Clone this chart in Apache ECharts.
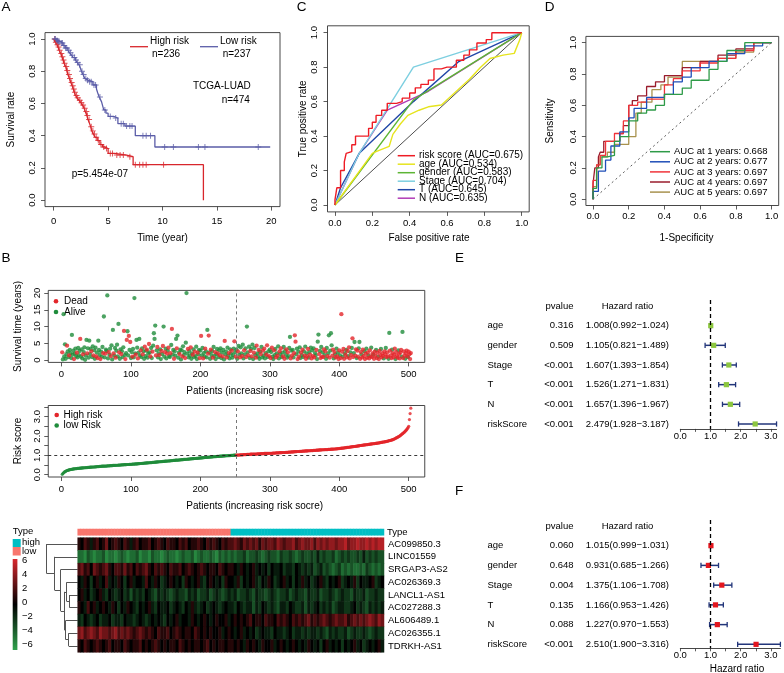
<!DOCTYPE html>
<html><head><meta charset="utf-8">
<script src="https://cdn.jsdelivr.net/npm/echarts@6/dist/echarts.min.js"></script>
<style>html,body{margin:0;padding:0;background:#fff}#c{width:784px;height:673px}</style>
</head><body><div id="c"></div><script>
const FF = '"Liberation Sans", Arial, Helvetica, sans-serif';

// ---------- A: Kaplan-Meier ----------
const kmHighTime = [0,0.15,0.3,0.4,0.5,0.65,0.75,0.86,0.95,1.1,1.2,1.3,1.45,1.57,1.7,1.8,1.9,2.0,2.15,2.33,2.5,2.65,2.8,2.9,3.05,3.15,3.3,3.4,3.5,3.65,3.8,4.0,4.25,4.5,4.7,5.0,5.6,6.7,7.3,13.76];
const kmHighSurv = [1,0.98,0.965,0.95,0.93,0.91,0.89,0.87,0.85,0.83,0.805,0.78,0.755,0.73,0.71,0.69,0.67,0.65,0.635,0.62,0.605,0.59,0.57,0.55,0.525,0.50,0.475,0.455,0.43,0.41,0.39,0.37,0.345,0.33,0.32,0.29,0.28,0.27,0.22,0];
const kmLowTime = [0,0.2,0.4,0.6,0.86,1.05,1.3,1.45,1.63,1.8,2.0,2.15,2.33,2.45,2.55,2.7,2.86,3.0,3.15,3.6,3.93,4.05,4.18,4.3,4.4,4.5,4.6,4.8,5.0,5.5,5.9,6.55,7.5,9.3,19.9];
const kmLowSurv = [1,0.99,0.985,0.975,0.96,0.945,0.93,0.915,0.90,0.885,0.87,0.855,0.84,0.82,0.80,0.78,0.755,0.745,0.735,0.715,0.69,0.665,0.64,0.625,0.61,0.585,0.56,0.54,0.52,0.51,0.475,0.46,0.40,0.33,0.33];
const kmHighCensor = [0.1,0.2,0.35,0.45,0.55,0.7,0.8,0.9,1.0,1.15,1.25,1.4,1.5,1.65,1.75,1.85,1.95,2.1,2.2,2.4,2.55,2.7,2.85,3.0,3.1,3.25,3.45,3.6,3.75,3.9,4.1,4.35,4.6,4.85,5.2,5.4,5.8,6.1,6.4,7.0,7.5,7.9,8.2,8.5,10.1];
const kmLowCensor = [0.1,0.15,0.25,0.35,0.45,0.5,0.7,0.8,0.95,1.1,1.2,1.4,1.55,1.7,1.9,2.05,2.2,2.4,2.6,2.75,2.95,3.1,3.3,3.45,3.7,3.85,4.25,4.7,5.2,5.7,6.2,6.4,6.7,7.0,7.2,8.2,8.5,8.9,10.2,11.0,13.3,13.9,18.8];
const kmTicksX = [0,5,10,15,20];
const unitTicks = [0,0.2,0.4,0.6,0.8,1.0];

// ---------- C: ROC of clinical features ----------
const rocCNames = ['risk score','age','gender','Stage','T','N'];
const rocCAuc = [0.675,0.534,0.583,0.704,0.645,0.635];
const rocCFpr = [
 [0,0.01,0.03,0.05,0.06,0.07,0.09,0.11,0.13,0.18,0.2,0.22,0.25,0.28,0.30,0.33,0.36,0.40,0.43,0.46,0.50,0.53,0.57,0.60,0.65,0.69,0.72,0.76,0.81,0.84,0.875,1.0],
 [0,0.2,0.22,0.29,0.31,0.35,0.39,0.45,0.5,0.57,0.64,0.72,0.78,0.83,0.9,0.96,0.99,1.0],
 [0,0.42,1],
 [0,0.13,0.42,1],
 [0,0.03,0.13,0.42,0.66,1],
 [0,0.13,0.28,0.5,1]
];
const rocCTpr = [
 [0,0.03,0.1,0.2,0.25,0.3,0.31,0.35,0.40,0.40,0.445,0.48,0.52,0.55,0.59,0.59,0.60,0.62,0.65,0.68,0.70,0.725,0.79,0.80,0.80,0.84,0.87,0.90,0.94,0.96,1.0,1.0],
 [0,0.3,0.31,0.34,0.41,0.47,0.52,0.55,0.57,0.58,0.65,0.73,0.8,0.85,0.87,0.88,0.96,1.0],
 [0,0.61,1],
 [0,0.30,0.80,1],
 [0,0.1,0.3,0.6,0.83,1],
 [0,0.3,0.55,0.66,1]
];

// ---------- D: time-dependent ROC ----------
const rocDYears = [1,2,3,4,5];
const rocDAuc = [0.668,0.677,0.697,0.697,0.697];
const rocDFpr = [
 [0,0.02,0.05,0.08,0.12,0.15,0.2,0.25,0.3,0.35,0.4,0.5,0.55,0.62,0.65,0.7,0.75,0.85,0.92,1],
 [0,0.03,0.07,0.1,0.15,0.2,0.23,0.3,0.4,0.45,0.5,0.55,0.65,0.75,0.85,0.95,1],
 [0,0.02,0.04,0.07,0.12,0.17,0.2,0.25,0.3,0.4,0.45,0.5,0.6,0.7,0.8,0.9,1],
 [0,0.01,0.03,0.04,0.06,0.08,0.15,0.17,0.2,0.22,0.25,0.3,0.35,0.4,0.5,0.6,0.7,0.8,0.9,1],
 [0,0.02,0.04,0.08,0.12,0.2,0.24,0.27,0.33,0.38,0.42,0.5,0.55,0.6,0.7,0.8,0.9,1]
];
const rocDTpr = [
 [0,0.07,0.2,0.27,0.28,0.37,0.4,0.5,0.55,0.57,0.6,0.67,0.71,0.76,0.76,0.83,0.88,0.95,1,1],
 [0,0.05,0.18,0.25,0.34,0.43,0.52,0.58,0.65,0.67,0.75,0.78,0.84,0.88,0.93,0.98,1],
 [0,0.12,0.22,0.28,0.37,0.42,0.5,0.6,0.62,0.64,0.73,0.77,0.82,0.87,0.9,0.95,1],
 [0,0.1,0.2,0.27,0.3,0.37,0.37,0.42,0.47,0.6,0.63,0.66,0.72,0.75,0.79,0.84,0.88,0.92,0.96,1],
 [0,0.08,0.22,0.27,0.3,0.35,0.4,0.55,0.62,0.7,0.73,0.78,0.88,0.88,0.88,0.9,0.94,1]
];

// ---------- B: survival status / risk score ----------
const survTime = [
2.3,0.2,13.7,1.1,4.7,0.4,1.8,4.3,2.6,0.9,1.4,3.0,2.0,0.6,7.5,1.6,2.8,0.3,1.9,3.4,1.2,2.2,0.8,3.6,1.5,
2.7,6.3,1.0,3.2,0.5,1.7,2.4,3.8,0.1,1.3,6.0,2.0,3.5,0.7,5.8,1.8,3.3,2.6,0.9,4.1,1.4,2.9,0.4,3.7,1.1,
2.2,0.6,5.8,3.0,1.5,0.3,2.5,1.0,3.9,2.1,13.0,0.8,1.9,3.1,2.7,19.3,0.5,2.4,1.6,3.4,1.2,4.4,0.2,9.0,2.0,
1.3,3.6,0.7,2.8,4.6,1.1,10.8,2.3,0.4,3.2,1.8,2.6,0.9,3.8,8.7,1.5,0.3,2.1,6.0,8.6,1.4,7.2,3.0,5.4,0.6,
2.4,1.0,3.3,0.8,18.5,2.0,1.6,6.0,3.7,0.5,2.2,6.3,1.3,2.9,0.9,3.5,1.7,2.6,0.4,4.0,1.2,2.8,3.1,0.7,1.9,
4.8,2.3,1.1,3.6,0.6,2.5,4.3,8.0,6.3,10.3,1.4,2.9,3.9,0.8,2.0,1.5,3.2,0.3,2.7,1.8,4.2,10.0,1.0,2.4,3.4,
0.5,1.9,2.8,3.7,1.2,0.9,2.1,4.5,9.3,1.6,3.0,0.4,2.6,1.3,6.3,3.5,7.3,0.7,2.2,1.8,3.1,0.2,2.9,1.1,4.1,
1.5,2.4,0.6,5.2,20.0,1.9,3.3,0.8,2.7,1.3,3.8,0.4,2.0,1.6,3.2,0.9,2.5,1.2,4.0,0.3,2.2,1.7,3.0,0.6,2.8,
7.2,1.4,3.6,0.5,2.1,1.0,3.4,2.6,0.8,9.0,1.9,7.3,2.3,0.4,3.1,1.5,2.7,0.7,3.9,1.2,2.4,0.3,1.8,3.3,2.0,
0.9,2.9,1.4,3.5,0.6,2.2,1.1,3.0,0.2,5.7,1.7,2.5,0.8,3.7,1.3,2.1,0.5,3.2,1.9,2.8,0.7,1.5,3.4,5.6,2.3,
1.0,3.1,0.4,2.6,4.2,1.6,0.8,3.8,2.0,1.2,4.6,0.5,2.9,1.7,3.5,0.9,10.0,2.3,1.4,4.0,0.6,2.7,3.3,1.1,4.6,
0.3,2.2,3.6,1.5,0.7,4.3,2.0,1.0,3.0,0.4,2.5,1.8,3.9,0.8,2.8,1.3,3.4,0.5,2.1,1.6,4.4,0.9,2.6,1.2,3.1,
0.6,2.4,3.7,1.0,0.3,2.9,1.5,3.3,0.8,2.0,1.3,4.1,0.5,2.6,1.8,3.5,0.9,2.2,1.1,3.9,0.4,2.7,1.6,3.2,0.7,
2.3,1.2,3.6,6.9,0.5,2.8,1.4,3.0,0.8,2.1,7.4,5.5,1.7,3.4,0.3,2.5,1.0,3.8,0.6,2.2,1.5,3.1,0.9,2.6,1.3,
4.0,0.4,2.0,1.1,3.3,0.7,2.4,1.6,3.7,0.5,2.9,1.2,3.5,0.8,2.1,1.4,3.0,0.3,5.5,7.6,1.8,2.7,0.6,3.9,1.0,
2.3,0.9,3.2,1.5,2.6,0.4,3.6,1.2,2.0,7.4,0.7,2.8,8.0,4.4,1.3,3.1,0.5,2.4,1.7,0.8,3.4,1.1,2.2,0.3,2.9,
1.4,0.6,13.7,2.5,1.0,3.3,0.4,2.0,1.6,3.0,0.8,2.7,1.2,3.8,0.5,2.3,1.5,3.6,6.5,0.9,2.1,5.4,1.3,3.2,0.6,
2.8,1.0,3.5,5.4,0.4,2.4,1.7,0.8,3.1,1.2,2.6,0.3,1.9,3.4,0.7,2.2,1.4,0.5,2.9,1.1,3.7,0.9,2.0,1.6,0.4,
2.5,1.3,3.0,0.6,2.2,1.0,0.3,2.7,1.5,3.3,0.8,2.0,1.2,0.5,2.6,1.7,3.6,0.9,2.3,1.1,0.4,8.1,2.8,1.4,0.6,
3.1,2.1,0.8,1.6,3.4,0.3,2.4,1.2,0.7,2.9,1.8,0.5,2.2,3.0,1.0,8.4,0.6,2.6,1.4,0.4,2.0,2.8,1.1,0.9,2.5,1.7,0.3,2.1];
const deadStatus = [
1,0,0,0,0,0,0,1,0,0,1,0,0,0,0,0,0,1,0,0,0,1,0,0,0,
0,1,0,0,0,1,0,0,0,0,0,1,0,0,0,0,0,1,0,0,1,0,0,0,1,
0,1,0,0,0,1,0,0,0,1,0,0,1,0,0,0,0,1,0,0,1,0,0,0,1,
0,0,1,0,0,0,0,1,0,0,1,0,0,0,1,0,1,0,1,0,0,1,0,1,0,
0,1,0,0,0,0,1,0,0,1,0,0,0,1,0,0,1,0,0,1,0,0,1,0,0,
1,0,1,0,0,1,0,0,0,0,1,0,1,0,0,1,0,0,1,0,1,0,0,1,0,
0,1,0,1,0,0,1,0,1,0,0,1,0,0,0,1,0,0,0,1,0,0,0,1,0,
0,0,1,0,0,0,1,0,0,0,1,0,0,1,0,0,1,0,0,0,1,0,0,1,0,
1,0,0,1,0,0,1,0,0,0,1,1,0,0,1,0,0,1,0,0,1,0,0,0,1,
0,0,1,0,0,0,1,0,0,1,0,0,1,0,0,1,0,0,0,1,0,0,0,1,0,
1,0,0,1,0,0,1,0,0,1,0,0,1,0,0,1,0,0,1,0,0,1,0,1,0,
0,1,0,0,1,1,0,0,1,0,0,1,0,0,1,0,1,0,0,1,1,0,0,1,0,
1,0,1,0,0,1,0,0,1,0,1,0,0,1,0,1,0,0,1,0,1,0,0,1,0,
1,0,0,0,1,0,1,0,0,1,1,1,0,0,1,0,1,0,0,1,0,1,0,0,1,
0,1,0,1,1,0,0,1,0,1,0,1,0,1,0,0,1,0,0,0,1,0,1,0,1,
0,1,1,0,1,0,0,1,0,0,1,0,0,0,1,1,0,1,0,1,0,1,0,1,1,
0,1,1,1,0,1,1,0,1,0,1,1,0,1,1,0,1,0,1,1,0,0,1,1,0,
1,1,0,0,1,1,0,1,1,1,0,1,1,0,1,1,0,1,1,1,0,1,1,0,1,
1,1,0,1,1,0,1,1,1,0,1,1,1,0,1,1,0,1,1,1,0,0,1,1,1,
0,1,1,1,1,0,1,1,1,0,1,1,1,1,0,0,1,1,1,0,1,1,1,0,1,1,1,1];
const riskScore = [
0.02,0.06,0.10,0.13,0.16,0.18,0.20,0.22,0.23,0.24,0.25,0.26,0.27,0.28,0.28,0.29,0.30,0.30,0.31,0.31,
0.32,0.32,0.33,0.33,0.33,0.34,0.34,0.34,0.35,0.35,0.35,0.36,0.36,0.36,0.37,0.37,0.37,0.38,0.38,0.38,
0.39,0.39,0.39,0.40,0.40,0.40,0.40,0.41,0.41,0.41,0.42,0.42,0.42,0.42,0.43,0.43,0.43,0.44,0.44,0.44,
0.44,0.45,0.45,0.45,0.45,0.46,0.46,0.46,0.46,0.47,0.47,0.47,0.47,0.48,0.48,0.48,0.48,0.49,0.49,0.49,
0.49,0.50,0.50,0.50,0.50,0.51,0.51,0.51,0.51,0.52,0.52,0.52,0.52,0.53,0.53,0.53,0.53,0.54,0.54,0.54,
0.54,0.55,0.55,0.55,0.55,0.56,0.56,0.56,0.56,0.57,0.57,0.57,0.58,0.58,0.58,0.59,0.59,0.59,0.60,0.60,
0.60,0.61,0.61,0.61,0.62,0.62,0.62,0.63,0.63,0.63,0.64,0.64,0.64,0.65,0.65,0.65,0.66,0.66,0.66,0.67,
0.67,0.67,0.68,0.68,0.68,0.69,0.69,0.69,0.70,0.70,0.70,0.71,0.71,0.71,0.72,0.72,0.72,0.73,0.73,0.73,
0.74,0.74,0.74,0.75,0.75,0.75,0.76,0.76,0.76,0.77,0.77,0.77,0.78,0.78,0.78,0.79,0.79,0.79,0.80,0.80,
0.80,0.81,0.81,0.81,0.82,0.82,0.82,0.83,0.83,0.83,0.84,0.84,0.84,0.85,0.85,0.85,0.86,0.86,0.86,0.87,
0.87,0.87,0.88,0.88,0.88,0.89,0.89,0.89,0.90,0.90,0.90,0.91,0.91,0.91,0.92,0.92,0.92,0.93,0.93,0.93,
0.94,0.94,0.94,0.95,0.95,0.95,0.95,0.96,0.96,0.96,0.96,0.97,0.97,0.97,0.97,0.98,0.98,0.98,0.98,0.99,
0.99,0.99,0.99,1.00,1.00,1.00,1.00,1.01,1.01,1.01,1.01,
1.01,1.02,1.02,1.02,1.02,1.03,1.03,1.03,1.03,1.03,1.04,1.04,1.04,1.04,1.04,1.05,1.05,1.05,1.05,1.05,
1.06,1.06,1.06,1.06,1.06,1.07,1.07,1.07,1.07,1.07,1.08,1.08,1.08,1.08,1.08,1.09,1.09,1.09,1.09,1.09,
1.10,1.10,1.10,1.10,1.10,1.10,1.11,1.11,1.11,1.11,1.11,1.11,1.12,1.12,1.12,1.12,1.12,1.13,1.13,1.13,
1.13,1.13,1.14,1.14,1.14,1.14,1.15,1.15,1.15,1.15,1.15,1.16,1.16,1.16,1.16,1.17,1.17,1.17,1.17,1.18,
1.18,1.18,1.18,1.19,1.19,1.19,1.19,1.20,1.20,1.20,1.20,1.21,1.21,1.21,1.21,1.22,1.22,1.22,1.22,1.23,
1.23,1.23,1.23,1.24,1.24,1.24,1.24,1.25,1.25,1.25,1.25,1.26,1.26,1.26,1.26,1.27,1.27,1.27,1.27,1.28,
1.28,1.28,1.28,1.29,1.29,1.29,1.29,1.30,1.30,1.30,1.30,1.30,1.31,1.31,1.31,1.31,1.32,1.32,1.32,1.32,
1.33,1.33,1.33,1.34,1.34,1.34,1.35,1.35,1.35,1.36,1.36,1.37,1.37,1.38,1.38,1.39,1.39,1.40,1.40,1.41,
1.41,1.42,1.42,1.43,1.43,1.44,1.44,1.45,1.45,1.46,1.46,1.47,1.47,1.48,1.48,1.49,1.49,1.50,1.51,1.51,
1.52,1.52,1.53,1.53,1.54,1.54,1.55,1.55,1.56,1.56,1.57,1.57,1.58,1.58,1.59,1.59,1.60,1.60,1.61,1.61,
1.62,1.62,1.63,1.63,1.64,1.65,1.65,1.66,1.67,1.67,1.68,1.69,1.69,1.70,1.71,1.71,1.72,1.73,1.74,1.75,
1.76,1.77,1.78,1.79,1.80,1.81,1.83,1.84,1.86,1.88,1.90,1.92,1.94,1.96,1.98,2.00,2.03,2.06,2.09,2.12,
2.15,2.18,2.21,2.25,2.29,2.33,2.38,2.43,2.50,2.85,3.16,3.44];
const lowCount = 251;
const patientTicks = [0,100,200,300,400,500];
const survTicks = [0,5,10,15,20];
const riskTicks = [0,0.5,1,1.5,2,2.5,3,3.5];
const riskLabelTicks = [0,1,2,3];

// ---------- B: heatmap ----------
const genes = ['AC099850.3','LINC01559','SRGAP3-AS2','AC026369.3','LANCL1-AS1','AC027288.3','AL606489.1','AC026355.1','TDRKH-AS1'];
const heatRows = [
 [1,0,2,1,-1,1,2,0,1,3, 0,1,2,1,0,2,1,-1,1,2, 0,1,1,2,0,1,2,1,0,2, 1,1,0,2,1,2,0,1,1,2, 1,0,2,1,2,1,0,2,1,2,
  2,3,2,1,3,2,3,2,3,1, 3,2,3,3,2,4,3,2,3,3, 4,2,3,4,3,3,4,2,4,3, 4,3,4,4,3,4,4,5,3,4, 4,5,4,4,5,4,5,4,5,5],
 [-4,-4,-5,-3,-4,-5,-4,-4,-3,-5, -4,-4,-5,-4,-3,-4,-5,-4,-4,-3, -5,-4,-4,-5,-3,-4,-4,-5,-4,-3, -4,-4,-5,-4,-3,-4,-4,-3,-5,-4, -3,-4,-4,-3,-4,-5,-3,-4,-3,-4,
  -3,-4,-3,-3,-2,-4,-3,-3,-2,-3, -4,-3,-2,-3,-3,-4,-2,-3,-3,-2, -3,-4,-3,-2,-3,-3,-2,-3,-1,-3, -2,-3,-3,-2,-4,-3,-2,-3,-2,-3, -3,-2,-3,-1,-3,-2,-3,-2,-3,-3],
 [2,3,1,2,0,3,2,1,2,3, 1,0,2,2,1,3,1,2,0,2, 1,2,3,1,0,2,1,2,1,0, 2,1,1,2,0,1,2,1,0,1, 2,1,0,1,1,0,2,1,0,1,
  1,0,-1,1,0,-1,0,1,-1,0, -1,0,-2,0,-1,-1,0,-2,-1,-1, -2,0,-1,-2,-1,-2,-1,-3,-2,-1, -3,-2,-3,-4,-3,-2,-4,-3,-4,-3, -4,-4,-3,-4,-2,-3,-4,-3,-4,-3],
 [0,-1,1,0,-2,0,1,-1,0,2, -1,0,-1,1,0,-2,0,1,-1,0, 0,-1,2,0,-1,1,0,-2,-1,0, 1,0,-1,0,-2,1,0,-1,0,1, -1,-2,0,1,0,-1,0,-2,1,0,
  0,-1,1,-2,0,-1,0,1,-1,-2, 0,-1,1,0,-2,-1,0,1,-1,0, -2,0,-1,1,-1,0,-2,-1,0,1, -1,-2,0,-1,0,1,-2,-1,0,-1, 1,-2,0,-1,-1,0,1,-2,-1,0],
 [0,1,-1,0,-2,-1,0,1,-1,-2, 0,-1,-2,-1,0,-2,-1,-3,-1,-2, -1,-2,0,-1,-2,-3,-1,-2,-1,-2, -3,-2,-1,-2,-2,-3,-1,-2,-1,-3, -2,-2,-1,-3,-2,-1,-2,-3,-2,-1,
  -2,-1,-3,-2,-2,-1,-2,-3,-1,-2, -2,-3,-2,-1,-2,-3,-2,-2,-1,-3, -2,-1,-2,-2,-3,-1,-2,-2,-1,-3, -2,-2,-1,-2,-3,-2,-1,-2,-2,-3, -1,-2,-2,-1,-3,-2,-2,-1,-2,-2],
 [1,0,-1,2,0,1,-1,0,1,0, -1,1,0,-2,0,-1,1,0,-1,-2, 0,-1,0,1,-1,-2,0,-1,-1,0, -2,-1,0,-1,-2,0,-1,1,-1,-2, -1,0,-2,-1,0,-1,-2,-1,0,-1,
  -1,-2,0,-1,-2,-1,-1,-3,-1,-2, 0,-1,-2,-1,-2,-3,-1,-1,-2,0, -1,-2,-2,-1,-3,-1,-2,-1,0,-2, -1,-2,-1,-3,-2,-1,-1,-2,-2,-1, 0,-2,-1,-2,-3,-1,-2,-1,-2,-1],
 [-1,-2,0,-1,-2,-1,0,-2,-1,-1, 0,-2,-1,-1,-2,0,-1,-1,-2,-1, 0,-1,-2,-1,0,-1,0,-1,-2,0, -1,0,1,-1,0,0,-1,1,0,-1, 0,1,0,-1,0,1,0,0,1,-1,
  0,1,0,1,0,1,2,0,1,1, 0,2,1,1,0,2,1,2,1,0, 2,1,2,1,2,3,1,2,1,2, 3,2,1,2,3,2,2,3,1,2, 3,2,3,2,3,4,3,2,4,3],
 [3,4,2,3,4,3,2,4,3,3, 2,3,4,2,3,2,3,2,1,2, 3,2,1,2,1,0,2,1,1,2, 0,1,2,1,0,1,1,0,2,1, 0,1,0,1,0,0,1,-1,0,1,
  0,-1,0,1,-1,0,-1,0,-2,-1, 0,-1,-1,-2,0,-1,-1,-2,-1,0, -2,-1,-1,-2,-1,-2,-1,-1,-2,-1, -2,-3,-1,-2,-1,-2,-2,-1,-3,-2, -1,-2,-2,-1,-2,-3,-2,-1,-2,-2],
 [1,0,2,1,0,1,2,1,0,1, 2,0,1,1,0,2,1,0,1,1, 2,0,1,0,1,2,1,0,1,0, 1,1,0,2,1,0,1,0,1,1, 0,1,2,0,1,0,1,1,0,1,
  1,0,1,0,-1,1,0,1,0,-1, 1,0,0,1,-1,0,1,0,-1,0, 1,0,-1,0,-1,1,0,-1,0,-2, 0,1,-1,0,-1,0,-2,0,-1,0, 1,-1,0,-2,-1,0,-1,0,1,-1]
];
// hierarchical clustering of the rows: [childA, childB, height]; leaves 0..8, merges create nodes 9..
const dendroMerges = [[4,5,8],[3,9,11],[7,8,9],[6,11,12],[10,12,13],[2,13,17],[1,14,23],[0,15,31]];
const legendValues = [6,4,2,0,-2,-4,-6];

// ---------- E / F: forest plots ----------
const forestVars = ['age','gender','Stage','T','N','riskScore'];
const uniP = ['0.316','0.509','<0.001','<0.001','<0.001','<0.001'];
const uniHR = [1.008,1.105,1.607,1.526,1.657,2.479];
const uniLo = [0.992,0.821,1.393,1.271,1.396,1.928];
const uniHi = [1.024,1.489,1.854,1.831,1.967,3.187];
const multiP = ['0.060','0.648','0.004','0.135','0.088','<0.001'];
const multiHR = [1.015,0.931,1.375,1.166,1.227,2.510];
const multiLo = [0.999,0.685,1.106,0.953,0.970,1.900];
const multiHi = [1.031,1.266,1.708,1.426,1.553,3.316];
const hrTicks = [0,0.5,1,1.5,2,2.5,3];
const hrLabelTicks = [0,1,2,3];

// ================= build =================
const RED_KM='#D8262C', BLUE_KM='#5B5DA8';
const rocCColors=['#EE1C25','#E6E41E','#5DB535','#7DCFE0','#2147A8','#B13CB6'];
const rocDColors=['#2E9B48','#1F4FB8','#F0333A','#9A1C2C','#A8924E'];
const RED_PT='#E3262B', GREEN_PT='#1F8C3B';
const HEAT_G='#2FA24C', HEAT_R='#D9282E';
const NAVY='#22357A';
const BOXC='#333';

const chart = echarts.init(document.getElementById('c'), null, {renderer:'canvas', width:784, height:673});

function stepVal(times, surv, t){ let v = surv[0]; for(let i=0;i<times.length;i++){ if(times[i]<=t) v=surv[i]; } return v; }
function pad(lo,hi){ const p=(hi-lo)*0.04; return [lo-p, hi+p]; }

const grids = [
 {left:45, top:32.6, width:235, height:174},
 {left:327.5, top:25.8, width:201.7, height:186.1},
 {left:585.9, top:36.4, width:192.8, height:169.1},
 {left:48.25, top:290.4, width:376.5, height:72},
 {left:48.25, top:405.5, width:376.5, height:71.5},
 {left:46, top:537.7, width:31.7, height:114.6},
 {left:77.7, top:529, width:306.3, height:6.3},
 {left:77.7, top:537.7, width:306.3, height:114.6},
 {left:680.3, top:300.1, width:96.25, height:128.8},
 {left:680.3, top:520, width:100.1, height:128.3}
].map((g,i)=>Object.assign({outerBoundsMode:'none', containLabel:false}, g, i<5 ? {show:true, borderColor:BOXC, borderWidth:0.9, backgroundColor:'transparent'} : {show:false}));

function rAxis(gi, min, max, ticks, labels, fmt, margin, extra){
  return Object.assign({
    type:'value', gridIndex:gi, min:min, max:max, scale:true,
    axisLine:{show:false, onZero:false}, splitLine:{show:false},
    axisTick:{show:true, customValues:ticks, length:4, lineStyle:{color:BOXC, width:0.8}},
    axisLabel:{show:true, customValues:labels, formatter:fmt, fontSize:9.5, color:'#000', fontFamily:FF, margin:margin}
  }, extra||{});
}
const f1 = v=>v.toFixed(1), f0 = v=>String(Math.round(v));
const N = survTime.length;
const pX = pad(1, N);
const sY = pad(Math.min(...survTime), Math.max(...survTime));
const rY = pad(Math.min(...riskScore), Math.max(...riskScore));
const riskSorted = riskScore.slice().sort((a,b)=>a-b);
const riskMedian = riskSorted[Math.floor(N/2)];

const xAxes = [
 rAxis(0,-0.8,20.8,kmTicksX,kmTicksX,f0,10),
 rAxis(1,-0.04,1.04,unitTicks,unitTicks,f1,6),
 rAxis(2,-0.04,1.04,unitTicks,unitTicks,f1,6),
 rAxis(3,pX[0],pX[1],patientTicks,patientTicks,f0,7),
 rAxis(4,pX[0],pX[1],patientTicks,patientTicks,f0,7),
 {type:'value', gridIndex:5, min:0, max:31.7, inverse:true, show:false},
 {type:'category', gridIndex:6, data:heatRows[0].map((_,i)=>String(i)), show:false},
 {type:'category', gridIndex:7, data:heatRows[0].map((_,i)=>String(i)), show:false},
 rAxis(8,0,uniHi[5],hrTicks,hrLabelTicks,f1,2,{axisLine:{show:true, onZero:false, lineStyle:{color:BOXC,width:0.9}}, axisTick:{show:true, customValues:hrTicks, length:3, lineStyle:{color:BOXC,width:0.8}}}),
 rAxis(9,0,multiHi[5],hrTicks,hrLabelTicks,f1,2,{axisLine:{show:true, onZero:false, lineStyle:{color:BOXC,width:0.9}}, axisTick:{show:true, customValues:hrTicks, length:3, lineStyle:{color:BOXC,width:0.8}}})
];
function yRot(a){ a.axisLabel.rotate = 90; return a; }
const yAxes = [
 yRot(rAxis(0,-0.04,1.04,unitTicks,unitTicks,f1,8)),
 yRot(rAxis(1,-0.04,1.04,unitTicks,unitTicks,f1,8)),
 yRot(rAxis(2,-0.04,1.04,unitTicks,unitTicks,f1,8)),
 yRot(rAxis(3,sY[0],sY[1],survTicks,survTicks,f0,6)),
 yRot(rAxis(4,rY[0],rY[1],riskTicks,riskLabelTicks,f1,6)),
 {type:'value', gridIndex:5, min:-0.5, max:8.5, inverse:true, show:false},
 {type:'category', gridIndex:6, data:['Type'], position:'right', axisLine:{show:false}, axisTick:{show:false}, axisLabel:{interval:0, fontSize:9.5, color:'#000', fontFamily:FF, margin:3}},
 {type:'category', gridIndex:7, data:genes, inverse:true, position:'right', axisLine:{show:false}, axisTick:{show:false}, axisLabel:{interval:0, fontSize:9.5, color:'#000', fontFamily:FF, margin:4}},
 {type:'value', gridIndex:8, min:-1.3, max:5.25, inverse:true, show:false},
 {type:'value', gridIndex:9, min:-1.3, max:5.2, inverse:true, show:false}
];

const series = [];
const plusSym = 'path://M-0.8,-5H0.8V-0.8H5V0.8H0.8V5H-0.8V0.8H-5V-0.8H-0.8Z';
// A
series.push({type:'line', xAxisIndex:0, yAxisIndex:0, step:'end', showSymbol:false, data:kmHighTime.map((t,i)=>[t,kmHighSurv[i]]), lineStyle:{color:RED_KM, width:1.3}, itemStyle:{color:RED_KM}});
series.push({type:'line', xAxisIndex:0, yAxisIndex:0, step:'end', showSymbol:false, data:kmLowTime.map((t,i)=>[t,kmLowSurv[i]]), lineStyle:{color:BLUE_KM, width:1.3}, itemStyle:{color:BLUE_KM}});
series.push({type:'scatter', xAxisIndex:0, yAxisIndex:0, symbol:plusSym, symbolSize:6, data:kmHighCensor.map(t=>[t, stepVal(kmHighTime,kmHighSurv,t)]), itemStyle:{color:RED_KM}});
series.push({type:'scatter', xAxisIndex:0, yAxisIndex:0, symbol:plusSym, symbolSize:6, data:kmLowCensor.map(t=>[t, stepVal(kmLowTime,kmLowSurv,t)]), itemStyle:{color:BLUE_KM}});
// C
series.push({type:'line', xAxisIndex:1, yAxisIndex:1, showSymbol:false, data:[[0,0],[1,1]], lineStyle:{color:'#000', width:0.7}, z:1});
for(let k=rocCNames.length-1;k>=0;k--){
  series.push({type:'line', xAxisIndex:1, yAxisIndex:1, showSymbol:false, step: k===0 ? 'start' : false,
    data:rocCFpr[k].map((f,i)=>[f,rocCTpr[k][i]]), lineStyle:{color:rocCColors[k], width:1.4}});
}
// D
series.push({type:'line', xAxisIndex:2, yAxisIndex:2, showSymbol:false, data:[[0,0],[1,1]], lineStyle:{color:'#333', width:0.8, type:[2,3]}, z:1});
for(let k=rocDYears.length-1;k>=0;k--){
  series.push({type:'line', xAxisIndex:2, yAxisIndex:2, showSymbol:false, step:'start',
    data:rocDFpr[k].map((f,i)=>[f,rocDTpr[k][i]]), lineStyle:{color:rocDColors[k], width:1.3}});
}
// B1 scatter
const alivePts=[], deadPts=[];
survTime.forEach((t,i)=>{ (deadStatus[i]?deadPts:alivePts).push([i+1,t]); });
series.push({type:'scatter', xAxisIndex:3, yAxisIndex:3, symbolSize:4.3, data:alivePts, itemStyle:{color:GREEN_PT},
  markLine:{silent:true, symbol:'none', label:{show:false}, lineStyle:{color:'#777', type:[3,3], width:1}, data:[{xAxis:lowCount}]}});
series.push({type:'scatter', xAxisIndex:3, yAxisIndex:3, symbolSize:4.3, data:deadPts, itemStyle:{color:RED_PT}});
// B2 risk
series.push({type:'scatter', xAxisIndex:4, yAxisIndex:4, symbolSize:3.2, data:riskScore.slice(0,lowCount).map((v,i)=>[i+1,v]), itemStyle:{color:GREEN_PT},
  markLine:{silent:true, symbol:'none', label:{show:false}, data:[
    {xAxis:lowCount, lineStyle:{color:'#777', type:[3,3], width:1}},
    {yAxis:riskMedian, lineStyle:{color:'#222', type:[3,3], width:0.9}}]}});
series.push({type:'scatter', xAxisIndex:4, yAxisIndex:4, symbolSize:3.2, data:riskScore.slice(lowCount).map((v,i)=>[lowCount+i+1,v]), itemStyle:{color:RED_PT}});
// dendrogram
const nodeY = genes.map((_,i)=>i), nodeH = genes.map(()=>0);
const dLines = [];
dendroMerges.forEach(m=>{
  const a=m[0], b=m[1], h=m[2];
  dLines.push({coords:[[nodeH[a],nodeY[a]],[h,nodeY[a]]]});
  dLines.push({coords:[[nodeH[b],nodeY[b]],[h,nodeY[b]]]});
  dLines.push({coords:[[h,nodeY[a]],[h,nodeY[b]]]});
  nodeY.push((nodeY[a]+nodeY[b])/2); nodeH.push(h);
});
series.push({type:'lines', coordinateSystem:'cartesian2d', xAxisIndex:5, yAxisIndex:5, data:dLines, lineStyle:{color:'#555', width:1, opacity:1, curveness:0}, silent:true});
// type bar
const nCol = heatRows[0].length;
const typeIdx = series.length;
series.push({type:'heatmap', xAxisIndex:6, yAxisIndex:6, data:heatRows[0].map((_,c)=>[c,0, (Math.floor((c+0.5)*N/nCol)+1) > lowCount ? 1 : 0]), itemStyle:{borderWidth:0}});
const heatIdx = series.length;
const hData=[]; heatRows.forEach((row,r)=>row.forEach((v,c)=>hData.push([c,r,v])));
series.push({type:'heatmap', xAxisIndex:7, yAxisIndex:7, data:hData, itemStyle:{borderWidth:0}, progressive:0});
// forest
function fmtHR(h,l,u){ return h.toFixed(3)+'('+l.toFixed(3)+'\u2212'+u.toFixed(3)+')'; }
function forest(gi, color, pv, hr, lo, hi){
  return {type:'custom', xAxisIndex:gi, yAxisIndex:gi, clip:false, silent:true,
    data: hr.map((h,i)=>[i,h,lo[i],hi[i]]), encode:{x:[1,2,3], y:0},
    renderItem:function(params, api){
      const i=params.dataIndex, row=api.value(0);
      const pc=api.coord([api.value(1),row]), pl=api.coord([api.value(2),row]), ph=api.coord([api.value(3),row]);
      const y=pc[1];
      const tx=(s,x,al)=>({type:'text', style:{text:s, x:x, y:y, fill:'#000', fontSize:9.5, fontFamily:FF, align:al, verticalAlign:'middle', textAlign:al, textVerticalAlign:'middle'}});
      return {type:'group', children:[
        {type:'line', shape:{x1:pl[0],y1:y,x2:ph[0],y2:y}, style:{stroke:NAVY, lineWidth:1.5}},
        {type:'line', shape:{x1:pl[0],y1:y-2.6,x2:pl[0],y2:y+2.6}, style:{stroke:NAVY, lineWidth:1.3}},
        {type:'line', shape:{x1:ph[0],y1:y-2.6,x2:ph[0],y2:y+2.6}, style:{stroke:NAVY, lineWidth:1.3}},
        {type:'rect', shape:{x:pc[0]-2.6,y:y-2.6,width:5.2,height:5.2}, style:{fill:color}},
        tx(forestVars[i],487.5,'left'), tx(pv[i],573.5,'right'), tx(fmtHR(hr[i],lo[i],hi[i]),627.3,'center')
      ]};
    },
    markLine:{silent:true, symbol:'none', label:{show:false}, lineStyle:{color:'#000', type:[4,3], width:1.3}, data:[{xAxis:1}]}
  };
}
series.push(forest(8,'#8CC63F',uniP,uniHR,uniLo,uniHi));
series.push(forest(9,'#E3161E',multiP,multiHR,multiLo,multiHi));

// ---------- graphic (titles, legends) ----------
function T(x,y,s,o){ o=o||{}; return {type:'text', x:x, y:y, rotation:o.rot||0, silent:true,
  style:{text:s, fill:'#000', fontSize:o.size||10, fontFamily:FF, align:o.al||'center', verticalAlign:'middle', textAlign:o.al||'center', textVerticalAlign:'middle'}}; }
function L(x1,y1,x2,y2,c,w){ return {type:'line', silent:true, shape:{x1:x1,y1:y1,x2:x2,y2:y2}, style:{stroke:c, lineWidth:w||1.3}}; }
function Dot(cx,cy,c){ return {type:'circle', silent:true, shape:{cx:cx,cy:cy,r:2.3}, style:{fill:c}}; }
function R(x,y,w,h,fill){ return {type:'rect', silent:true, shape:{x:x,y:y,width:w,height:h}, style:{fill:fill}}; }
const V = Math.PI/2;
const g = [];
[['A',6,7],['B',6,258],['C',301.7,7],['D',549.5,7],['E',459.5,258],['F',459,491]].forEach(a=>g.push(T(a[1],a[2],a[0],{size:13.5})));
g.push(T(162.5,238,'Time (year)'), T(11.7,119.6,'Survival rate',{rot:V}));
g.push(T(429,238,'False positive rate'), T(303,118.8,'True positive rate',{rot:V}));
g.push(T(686.5,238,'1-Specificity'), T(550,121,'Sensitivity',{rot:V}));
g.push(T(18,326.4,'Survival time (years)',{rot:V}), T(254.7,391.7,'Patients (increasing risk socre)'));
g.push(T(18.3,441,'Risk score',{rot:V}), T(254.7,506,'Patients (increasing risk socre)'));
g.push(T(737,669,'Hazard ratio'));
// A legend
g.push(L(130,46.7,148,46.7,RED_KM), T(150,41.7,'High risk',{al:'left'}), T(152,54,'n=236',{al:'left'}));
g.push(L(200,46.7,218,46.7,BLUE_KM), T(220,41.7,'Low risk',{al:'left'}), T(222.7,54,'n=237',{al:'left'}));
g.push(T(193,86,'TCGA-LUAD',{al:'left'}), T(221.7,100,'n=474',{al:'left'}), T(71.7,174,'p=5.454e-07',{al:'left'}));
// C legend
rocCNames.forEach((nm,k)=>{ const y=155.7+k*8.5; g.push(L(397.7,y,415,y,rocCColors[k],1.5), T(419,y,nm+' (AUC='+rocCAuc[k].toFixed(3)+')',{al:'left'})); });
// D legend
rocDYears.forEach((yr,k)=>{ const y=151.7+k*10.1; g.push(L(650,y,670,y,rocDColors[k],1.5), T(674,y,'AUC at '+yr+' years: '+rocDAuc[k].toFixed(3),{al:'left',size:9.5})); });
// B legends
g.push(Dot(56,301.3,RED_PT), T(64,301.3,'Dead',{al:'left'}), Dot(56,312,GREEN_PT), T(64,312,'Alive',{al:'left'}));
g.push(Dot(56.7,415,RED_PT), T(63.5,415,'High risk',{al:'left'}), Dot(56.7,425.5,GREEN_PT), T(63.5,425.5,'low Risk',{al:'left'}));
// heatmap legends
g.push(T(12.7,531,'Type',{al:'left',size:9.5}));
g.push(R(12.7,539,8,8,'#00BFC4'), R(12.7,547,8,8.5,'#F8766D'), T(22,542.3,'high',{al:'left',size:9.5}), T(22,551,'low',{al:'left',size:9.5}));
g.push({type:'rect', silent:true, shape:{x:12.7,y:559,width:4.7,height:91}, style:{fill:new echarts.graphic.LinearGradient(0,0,0,1,[{offset:0,color:HEAT_R},{offset:0.5,color:'#000'},{offset:1,color:HEAT_G}])}});
legendValues.forEach(v=>g.push(T(22,602.35-v*6.94,(v<0?'\u2212':'')+Math.abs(v),{al:'left',size:9.5})));
// forest headers
g.push(T(573.5,306.7,'pvalue',{al:'right',size:9.5}), T(627.5,306.7,'Hazard ratio',{size:9.5}));
g.push(T(573.5,526,'pvalue',{al:'right',size:9.5}), T(627.5,526,'Hazard ratio',{size:9.5}));

chart.setOption({
  animation:false,
  textStyle:{fontFamily:FF},
  grid:grids, xAxis:xAxes, yAxis:yAxes,
  visualMap:[
    {type:'continuous', show:false, seriesIndex:heatIdx, min:-6, max:6, dimension:2, inRange:{color:[HEAT_G,'#000000',HEAT_R]}},
    {type:'piecewise', show:false, seriesIndex:typeIdx, dimension:2, pieces:[{value:0,color:'#F8766D'},{value:1,color:'#00BFC4'}]}
  ],
  series:series,
  graphic:g
});
</script></body></html>
